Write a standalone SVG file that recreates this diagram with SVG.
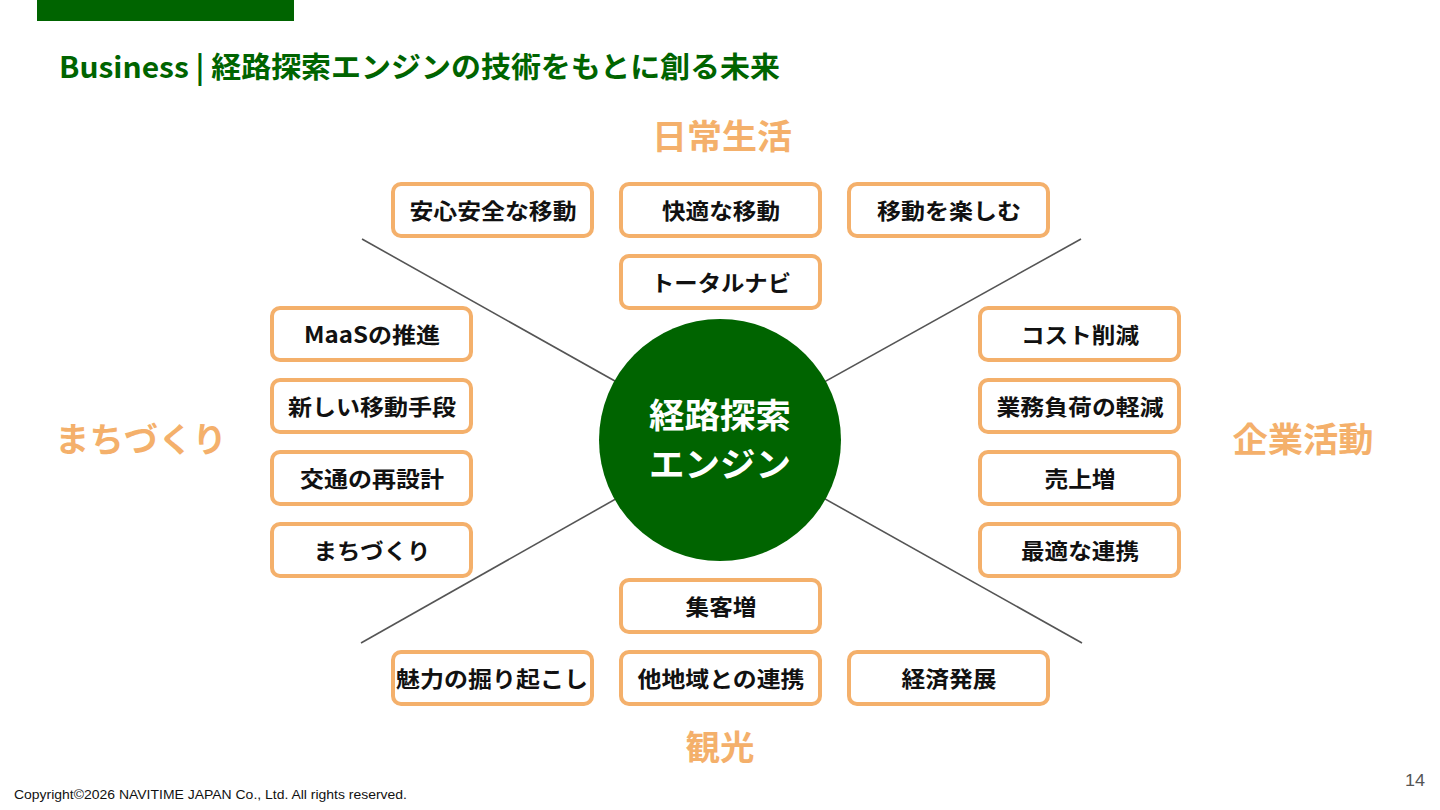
<svg xmlns="http://www.w3.org/2000/svg" width="1440" height="810" viewBox="0 0 1440 810">
<style>
.box{fill:#fff;stroke:#F4B06B;stroke-width:4}
.bt{font-family:"Noto Sans CJK JP","Noto Sans",sans-serif;font-weight:700;font-size:22px;fill:#111;text-anchor:middle}
.cat{font-family:"Noto Sans CJK JP","Noto Sans",sans-serif;font-weight:700;font-size:34px;fill:#F4B06B;text-anchor:middle}
.ln{stroke:#555;stroke-width:1.6}
</style>
<rect width="1440" height="810" fill="#fff"/>
<rect x="37" y="0" width="257" height="21" fill="#006400"/>
<text x="59" y="78" textLength="721" lengthAdjust="spacingAndGlyphs" font-family="'Noto Sans CJK JP','Noto Sans',sans-serif" font-weight="700" font-size="29" fill="#006400">Business | 経路探索エンジンの技術をもとに創る未来</text>
<g id="connectors">
<line class="ln" x1="362" y1="239" x2="720" y2="440"/>
<line class="ln" x1="1081" y1="239" x2="720" y2="440"/>
<line class="ln" x1="361" y1="643" x2="720" y2="440"/>
<line class="ln" x1="1082" y1="643" x2="720" y2="440"/>
</g>
<g id="center">
<circle cx="720" cy="440" r="121" fill="#006400"/>
<text x="720" y="428" textLength="142" lengthAdjust="spacingAndGlyphs" text-anchor="middle" font-family="'Noto Sans CJK JP',sans-serif" font-weight="700" font-size="34" fill="#fff">経路探索</text>
<text x="720" y="477" textLength="142" lengthAdjust="spacingAndGlyphs" text-anchor="middle" font-family="'Noto Sans CJK JP',sans-serif" font-weight="700" font-size="34" fill="#fff">エンジン</text>
</g>
<g id="categories">
<text class="cat" x="722" y="149" textLength="140" lengthAdjust="spacingAndGlyphs">日常生活</text>
<text class="cat" x="141" y="452" textLength="172" lengthAdjust="spacingAndGlyphs">まちづくり</text>
<text class="cat" x="1303" y="452" textLength="141" lengthAdjust="spacingAndGlyphs">企業活動</text>
<text class="cat" x="720" y="760" textLength="69" lengthAdjust="spacingAndGlyphs">観光</text>
</g>
<g id="n1"><rect class="box" x="393" y="184" width="199" height="52" rx="8"/><text class="bt" x="493" y="219" textLength="167" lengthAdjust="spacingAndGlyphs">安心安全な移動</text></g>
<g id="n2"><rect class="box" x="621" y="184" width="199" height="52" rx="8"/><text class="bt" x="721" y="219" textLength="118" lengthAdjust="spacingAndGlyphs">快適な移動</text></g>
<g id="n3"><rect class="box" x="849" y="184" width="199" height="52" rx="8"/><text class="bt" x="949" y="219" textLength="144" lengthAdjust="spacingAndGlyphs">移動を楽しむ</text></g>
<g id="n4"><rect class="box" x="621" y="256" width="199" height="52" rx="8"/><text class="bt" x="721" y="291" textLength="140" lengthAdjust="spacingAndGlyphs">トータルナビ</text></g>
<g id="n5"><rect class="box" x="272" y="308" width="199" height="52" rx="8"/><text class="bt" x="372" y="343" textLength="136" lengthAdjust="spacingAndGlyphs">MaaSの推進</text></g>
<g id="n6"><rect class="box" x="272" y="380" width="199" height="52" rx="8"/><text class="bt" x="372" y="415" textLength="168" lengthAdjust="spacingAndGlyphs">新しい移動手段</text></g>
<g id="n7"><rect class="box" x="272" y="452" width="199" height="52" rx="8"/><text class="bt" x="372" y="487" textLength="144" lengthAdjust="spacingAndGlyphs">交通の再設計</text></g>
<g id="n8"><rect class="box" x="272" y="524" width="199" height="52" rx="8"/><text class="bt" x="372" y="559" textLength="117" lengthAdjust="spacingAndGlyphs">まちづくり</text></g>
<g id="n9"><rect class="box" x="980" y="308" width="199" height="52" rx="8"/><text class="bt" x="1080" y="343" textLength="118" lengthAdjust="spacingAndGlyphs">コスト削減</text></g>
<g id="n10"><rect class="box" x="980" y="380" width="199" height="52" rx="8"/><text class="bt" x="1080" y="415" textLength="167" lengthAdjust="spacingAndGlyphs">業務負荷の軽減</text></g>
<g id="n11"><rect class="box" x="980" y="452" width="199" height="52" rx="8"/><text class="bt" x="1080" y="487" textLength="71" lengthAdjust="spacingAndGlyphs">売上増</text></g>
<g id="n12"><rect class="box" x="980" y="524" width="199" height="52" rx="8"/><text class="bt" x="1080" y="559" textLength="118" lengthAdjust="spacingAndGlyphs">最適な連携</text></g>
<g id="n13"><rect class="box" x="621" y="580" width="199" height="52" rx="8"/><text class="bt" x="721" y="615" textLength="71" lengthAdjust="spacingAndGlyphs">集客増</text></g>
<g id="n14"><rect class="box" x="393" y="652" width="199" height="52" rx="8"/><text class="bt" x="492" y="687" textLength="192" lengthAdjust="spacingAndGlyphs">魅力の掘り起こし</text></g>
<g id="n15"><rect class="box" x="621" y="652" width="199" height="52" rx="8"/><text class="bt" x="721" y="687" textLength="167" lengthAdjust="spacingAndGlyphs">他地域との連携</text></g>
<g id="n16"><rect class="box" x="849" y="652" width="199" height="52" rx="8"/><text class="bt" x="949" y="687" textLength="95" lengthAdjust="spacingAndGlyphs">経済発展</text></g>
<text x="14" y="799" textLength="393" lengthAdjust="spacingAndGlyphs" font-family="'Liberation Sans',sans-serif" font-size="12.5" fill="#111">Copyright©2026 NAVITIME JAPAN Co., Ltd. All rights reserved.</text>
<text x="1405" y="786" textLength="20" lengthAdjust="spacingAndGlyphs" font-family="'Liberation Sans',sans-serif" font-size="17" fill="#555">14</text>
</svg>
